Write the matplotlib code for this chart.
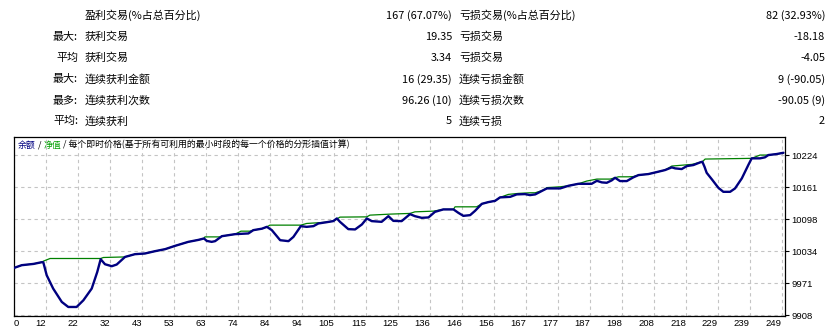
import matplotlib
matplotlib.use("Agg")
import matplotlib.pyplot as plt

plt.rcParams['font.family'] = ['Noto Sans CJK SC', 'DejaVu Sans']

# 统计表
row_prefix = ['', '最大:', '平均', '最大:', '最多:', '平均:']
win_labels = ['盈利交易(%占总百分比)', '获利交易', '获利交易', '连续获利金额', '连续获利次数', '连续获利']
win_values = ['167 (67.07%)', '19.35', '3.34', '16 (29.35)', '96.26 (10)', '5']
loss_labels = ['亏损交易(%占总百分比)', '亏损交易', '亏损交易', '连续亏损金额', '连续亏损次数', '连续亏损']
loss_values = ['82 (32.93%)', '-18.18', '-4.05', '9 (-90.05)', '-90.05 (9)', '2']

# 净值曲线 (交易序号, 金额)
equity_x = [0, 2.5, 6.3, 9.0, 9.5, 10.6, 12.7, 15.5, 17.6, 20.3, 22.5, 25.2, 27.0, 28.1,
            29.5, 31.7, 33.3, 36.0, 39.2, 42.5, 45.7, 49.0, 52.2, 56.5, 59.8, 61.6, 62.5,
            64.1, 65.2, 67.4, 71.7, 76.0, 77.6, 80.4, 82.0, 83.6, 86.3, 89.0, 90.6, 93.0,
            94.9, 97.1, 98.7, 100.9, 103.5, 104.7, 105.7, 108.4, 110.6, 112.8, 114.4, 116.0,
            119.2, 121.4, 123.0, 125.7, 128.4, 130.0, 132.2, 134.4, 136.5, 139.2, 142.5,
            144.1, 145.7, 147.9, 149.5, 151.7, 153.8, 156.0, 157.6, 160.9, 163.0, 165.7,
            167.3, 169.0, 171.7, 172.8, 177.1, 179.8, 183.0, 187.3, 189.0, 190.6, 192.2,
            193.8, 194.9, 196.5, 198.7, 200.8, 202.5, 205.7, 208.4, 211.1, 213.3, 214.4,
            216.5, 218.2, 220.3, 222.5, 223.2, 223.9, 224.6, 226.3, 228.4, 230.0, 232.2,
            233.8, 236.0, 238.1, 239.2, 241.9, 243.5, 244.6, 247.3, 249.5]
equity_y = [10001.4, 10006.8, 10009.3, 10012.7, 10012.5, 9987.0, 9960.7, 9934.3, 9924.4,
            9924.4, 9937.6, 9960.7, 9993.5, 10018.6, 10008.7, 10004.8, 10008.1, 10023.1,
            10028.5, 10029.9, 10034.4, 10038.4, 10044.9, 10052.8, 10056.7, 10059.5, 10054.7,
            10052.8, 10054.2, 10064.0, 10068.0, 10069.4, 10075.9, 10078.8, 10082.4, 10075.9,
            10056.1, 10054.2, 10062.6, 10083.8, 10082.4, 10083.8, 10089.1, 10091.1, 10093.7,
            10099.0, 10092.3, 10077.9, 10077.3, 10087.1, 10099.0, 10093.7, 10092.3, 10103.5,
            10094.2, 10093.7, 10107.5, 10103.5, 10100.2, 10101.0, 10112.0, 10116.8, 10116.8,
            10110.0, 10104.1, 10105.5, 10114.0, 10127.8, 10131.2, 10133.7, 10140.5, 10141.6,
            10146.4, 10147.0, 10145.0, 10146.4, 10154.9, 10158.2, 10158.2, 10163.4, 10167.3,
            10167.3, 10173.2, 10170.1, 10169.3, 10174.0, 10179.2, 10172.7, 10172.7, 10180.0,
            10184.5, 10186.5, 10190.4, 10194.4, 10199.7, 10197.7, 10196.4, 10202.3, 10204.3,
            10209.6, 10210.8, 10200.9, 10189.0, 10176.0, 10159.4, 10151.5, 10151.5, 10158.2,
            10178.0, 10204.3, 10217.5, 10217.5, 10219.5, 10224.0, 10226.0, 10228.5]

# 余额曲线
balance_x = [0, 2.5, 6.3, 9.0, 9.5, 11.7, 28.1, 29.0, 36.0, 39.2, 42.5, 45.7, 49.0, 52.2,
             56.5, 59.8, 61.6, 61.9, 66.8, 67.4, 71.7, 73.6, 76.5, 77.6, 80.4, 82.0, 83.0,
             93.0, 94.9, 100.3, 103.5, 105.7, 114.4, 115.4, 121.9, 128.4, 130.0, 136.0,
             139.2, 142.5, 143.0, 150.0, 151.7, 153.8, 156.0, 157.6, 160.3, 163.6, 167.3,
             169.0, 171.7, 172.8, 177.1, 179.8, 183.0, 185.7, 189.0, 193.3, 196.0, 199.2,
             200.8, 202.5, 205.7, 208.4, 211.1, 213.3, 219.8, 222.5, 223.2, 224.1, 239.2,
             241.9, 244.6, 247.3, 249.5]
balance_y = [10001.4, 10006.8, 10009.3, 10012.7, 10014.7, 10020.0, 10020.0, 10022.0, 10023.1,
             10028.5, 10029.9, 10034.4, 10038.4, 10044.9, 10052.8, 10056.7, 10059.5, 10062.6,
             10062.6, 10064.0, 10068.0, 10073.9, 10073.9, 10075.9, 10078.8, 10082.4, 10085.8,
             10085.8, 10089.1, 10091.1, 10093.7, 10101.6, 10102.1, 10105.5, 10107.5, 10108.9,
             10112.0, 10113.4, 10116.8, 10116.8, 10121.9, 10121.9, 10127.8, 10131.2, 10133.7,
             10140.5, 10146.4, 10148.4, 10149.6, 10149.6, 10154.9, 10159.8, 10161.4, 10163.4,
             10167.3, 10172.7, 10176.6, 10176.6, 10181.1, 10181.1, 10181.5, 10184.5, 10186.5,
             10190.4, 10194.4, 10202.3, 10205.6, 10209.6, 10210.8, 10216.1, 10217.5, 10224.0,
             10224.0, 10226.0, 10228.5]

x_tick_labels = ['0', '12', '22', '32', '43', '53', '63', '74', '84', '94', '105', '115', '125',
                 '136', '146', '156', '167', '177', '187', '198', '208', '218', '229', '239', '249']
y_ticks = [9908, 9971.2, 10034.4, 10097.6, 10160.8, 10224]

fig = plt.figure(figsize=(8.3, 3.34), dpi=100)

# 上方统计表
row_y = [0.953, 0.890, 0.826, 0.762, 0.699, 0.637]
fs = 7.9
for i in range(len(row_prefix)):
    y = row_y[i]
    fig.text(78 / 830, y, row_prefix[i], ha='right', va='center', fontsize=fs)
    fig.text(85 / 830, y, win_labels[i], ha='left', va='center', fontsize=fs)
    fig.text(452 / 830, y, win_values[i], ha='right', va='center', fontsize=fs)
    fig.text(459 / 830, y, loss_labels[i], ha='left', va='center', fontsize=fs)
    fig.text(825 / 830, y, loss_values[i], ha='right', va='center', fontsize=fs)

# 余额/净值图
ax = fig.add_axes([14 / 830, 18 / 334, 771 / 830, 179 / 334])
ax.plot(balance_x, balance_y, color='#008000', lw=0.9, zorder=3)
ax.plot(equity_x, equity_y, color='#000080', lw=1.7, zorder=4,
        solid_joinstyle='round', solid_capstyle='round')

ax.set_xlim(0, 250)
ax.set_ylim(9906.6, 10259.6)

step = 249 / 24
ax.set_xticks([i * step for i in range(len(x_tick_labels))])
ax.set_xticklabels(x_tick_labels, family=['Liberation Sans'], fontsize=6.8)
for i, lab in enumerate(ax.get_xticklabels()):
    lab.set_ha('left' if i == 0 else 'right')
ax.tick_params(axis='x', length=0, pad=2.5)

ax.yaxis.tick_right()
ax.set_yticks(y_ticks)
ax.set_yticklabels([f'{v:.0f}' for v in y_ticks], family=['Liberation Sans'], fontsize=6.8)
ax.tick_params(axis='y', length=3, width=0.8, pad=1.5)

ax.grid(True, color='#c4c4c4', linestyle=(0, (3, 3)), linewidth=0.8)
for s in ax.spines.values():
    s.set_color('black')
    s.set_linewidth(0.9)

# 图例标题
tfs = 6.4
t1 = ax.text(4 / 771, 0.955, '余额', transform=ax.transAxes, color='#000080',
             fontsize=tfs, ha='left', va='center')
t2 = ax.annotate(' / ', xy=(1, 0), xycoords=t1, va='bottom', fontsize=tfs, color='black')
t3 = ax.annotate('净值', xy=(1, 0), xycoords=t2, va='bottom', fontsize=tfs, color='#00a000')
ax.annotate(' / 每个即时价格(基于所有可利用的最小时段的每一个价格的分形插值计算)',
            xy=(1, 0), xycoords=t3, va='bottom', fontsize=tfs, color='black')

fig.savefig('out.png', dpi=100)
